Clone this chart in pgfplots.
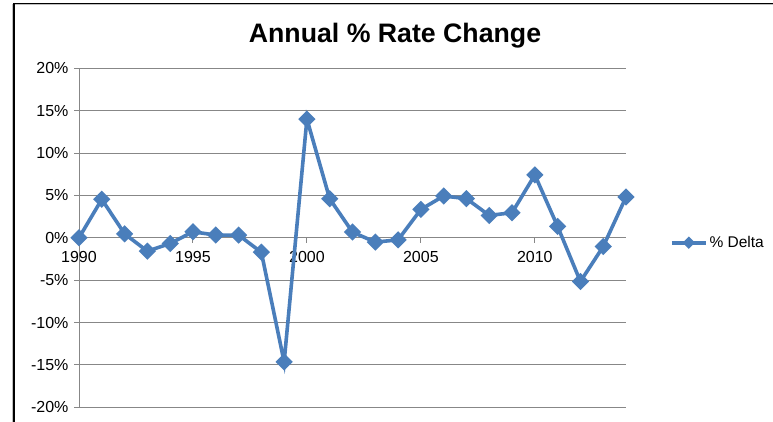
\documentclass[border=0pt]{standalone}
\usepackage{pgfplots}
\pgfplotsset{compat=1.18}
\usepackage{fontspec}
\setmainfont{Liberation Sans}
\definecolor{exblue}{HTML}{4A7EBB}
\definecolor{gridgray}{HTML}{878787}
\pgfplotstableread{
year delta
1990 0.00
1991 4.54
1992 0.47
1993 -1.58
1994 -0.67
1995 0.71
1996 0.32
1997 0.32
1998 -1.70
1999 -14.65
2000 14.00
2001 4.60
2002 0.67
2003 -0.51
2004 -0.24
2005 3.35
2006 4.93
2007 4.62
2008 2.64
2009 2.96
2010 7.42
2011 1.34
2012 -5.16
2013 -1.03
2014 4.81
}\deltatable
\begin{document}
\begin{tikzpicture}[x=1pt,y=1pt]
\useasboundingbox (0,0) rectangle (773,422);
\fill[white] (0,0) rectangle (773,422);
\draw[gray!50, line width=1pt] (12.6,0) -- (12.6,417.2) -- (773,417.2);
\draw[black, line width=1.3pt] (14,0) -- (14,418.4) -- (773,418.4);
\node[font=\fontsize{26.7}{30}\selectfont\bfseries, anchor=base] at (395,379) {Annual \% Rate Change};
\begin{axis}[
  at={(79pt,14.7pt)}, anchor=south west,
  scale only axis, width=547pt, height=339pt,
  xmin=1990, xmax=2014, ymin=-20, ymax=20,
  axis y line*=left, axis x line*=middle,
  hide obscured x ticks=false,
  axis line style={draw=gridgray, line width=1pt, -},
  xtick={1990,1995,2000,2005,2010},
  xticklabels={1990,1995,2000,2005,2010},
  ytick={-20,-15,-10,-5,0,5,10,15,20},
  yticklabels={-20\%,-15\%,-10\%,-5\%,0\%,5\%,10\%,15\%,20\%},
  tick align=outside, major tick length=5pt,
  tick style={gridgray, line width=1pt},
  ymajorgrids, grid style={gridgray, line width=1pt},
  tick label style={font=\fontsize{16}{19}\selectfont},
  xticklabel style={yshift=-5pt},
  yticklabel style={xshift=-2pt},
  clip=false,
  legend style={at={(1.08,0.4855)}, anchor=west, draw=none, fill=none,
    font=\fontsize{15.5}{18}\selectfont, inner xsep=0pt,
    legend cell align=left},
  legend image code/.code={\draw[mark repeat=2,mark phase=2,#1,mark size=2.6pt] plot coordinates {(0pt,0pt) (17pt,0pt) (34pt,0pt)};},
]
\addplot[exblue, line width=3.6pt, mark=square*, mark size=4.3pt, mark options={solid, rotate=45}] table[x=year,y=delta] {\deltatable};
\addlegendentry{\% Delta}
\end{axis}
\end{tikzpicture}
\end{document}
